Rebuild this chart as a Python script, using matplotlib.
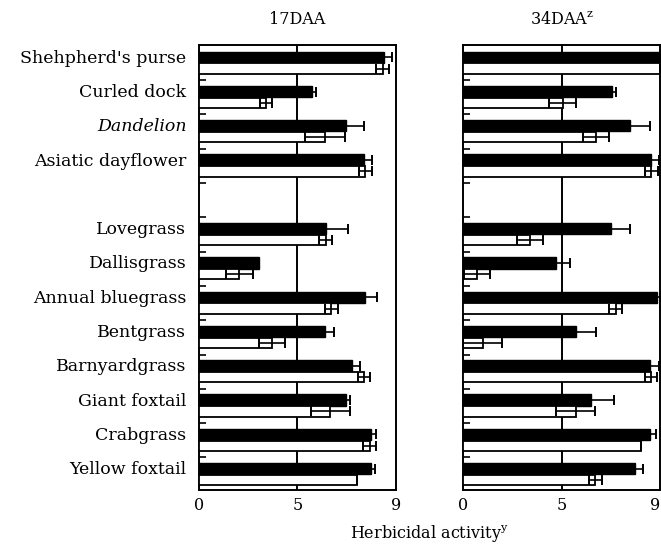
import matplotlib.pyplot as plt
import numpy as np

species = ["Shehpherd's purse", "Curled dock", "Dandelion", "Asiatic dayflower", "",
           "Lovegrass", "Dallisgrass", "Annual bluegrass", "Bentgrass",
           "Barnyardgrass", "Giant foxtail", "Crabgrass", "Yellow foxtail"]

# 17 DAA: black bar / white bar with error (None for the empty slot)
d17_black = [8.45, 5.15, 6.7, 7.55, None, 5.8, 2.75, 7.6, 5.75, 7.0, 6.7, 7.85, 7.85]
d17_black_err = [0.38, 0.22, 0.85, 0.35, None, 1.0, 0.0, 0.52, 0.4, 0.38, 0.2, 0.23, 0.18]
d17_white = [8.4, 3.05, 5.75, 7.6, None, 5.8, 1.85, 6.05, 3.33, 7.55, 6.0, 7.8, 7.2]
d17_white_err = [0.3, 0.28, 0.9, 0.3, None, 0.3, 0.6, 0.3, 0.6, 0.27, 0.9, 0.3, 0.0]

# 34 DAA
d34_black = [9.0, 6.8, 7.65, 8.6, None, 6.75, 4.25, 8.85, 5.15, 8.55, 5.85, 8.55, 7.85]
d34_black_err = [0.0, 0.18, 0.87, 0.34, None, 0.9, 0.64, 0.2, 0.92, 0.4, 1.07, 0.26, 0.37]
d34_white = [9.0, 4.55, 6.08, 8.6, None, 3.07, 0.65, 6.97, 0.9, 8.6, 5.15, 8.15, 6.05]
d34_white_err = [0.0, 0.6, 0.6, 0.3, None, 0.6, 0.6, 0.3, 0.9, 0.28, 0.9, 0.0, 0.29]

titles = ["17DAA", "34DAA$^{\\mathregular{z}}$"]
tick_labels = ["0", "5", "9"]

plt.rcParams['font.family'] = ['DejaVu Serif']

fig = plt.figure(figsize=(6.61, 5.45), dpi=100)
axes = [fig.add_axes([0.301, 0.101, 0.298, 0.816]),
        fig.add_axes([0.7005, 0.101, 0.298, 0.816])]

panels = [(d17_black, d17_black_err, d17_white, d17_white_err),
          (d34_black, d34_black_err, d34_white, d34_white_err)]

h = 0.33
for k, (ax, (bv, be, wv, we)) in enumerate(zip(axes, panels)):
    idx = [i for i in range(len(species)) if bv[i] is not None]
    y = np.array(idx, dtype=float)
    b = [bv[i] for i in idx]
    w = [wv[i] for i in idx]
    ax.axvline(4.5, color='black', lw=1.4, zorder=1)
    ax.barh(y - 0.17, b, height=h, color='black', edgecolor='black', lw=1, zorder=2)
    ax.barh(y + 0.16, w, height=h * 0.9, color='white', edgecolor='black', lw=1.3, zorder=3)
    ax.errorbar(b, y - 0.17, xerr=[be[i] for i in idx], fmt='none', ecolor='black',
                elinewidth=1.2, capsize=3.5, capthick=1.4, zorder=4)
    ax.errorbar(w, y + 0.16, xerr=[we[i] for i in idx], fmt='none', ecolor='black',
                elinewidth=1.2, capsize=3.5, capthick=1.4, zorder=4)
    ax.set_xlim(0, 9)
    ax.set_ylim(12.45, -0.52)
    ax.set_xticks([0, 4.5, 9])
    xl = ax.set_xticklabels(tick_labels, fontsize=11.5)
    if k == 1:
        xl[-1].set_ha('right')
    ax.tick_params(axis='x', length=0, pad=5)
    ax.set_yticks(np.arange(0.5, 12, 1.0), minor=True)
    ax.tick_params(axis='y', which='minor', direction='in', length=5, width=1.2)
    if k == 0:
        ax.set_yticks(y - 0.2)
        labels = ax.set_yticklabels([species[i] for i in idx], fontsize=12.5)
        labels[2].set_style('italic')
        ax.tick_params(axis='y', which='major', length=0, pad=9)
    else:
        ax.set_yticks([])
    for s in ax.spines.values():
        s.set_linewidth(1.4)
    ax.set_title(titles[k], fontsize=11.5, pad=15)

fig.text(0.65, 0.012, "Herbicidal activity$^{\\mathregular{y}}$", ha='center', fontsize=11.5)

fig.savefig("out.png", dpi=100)
